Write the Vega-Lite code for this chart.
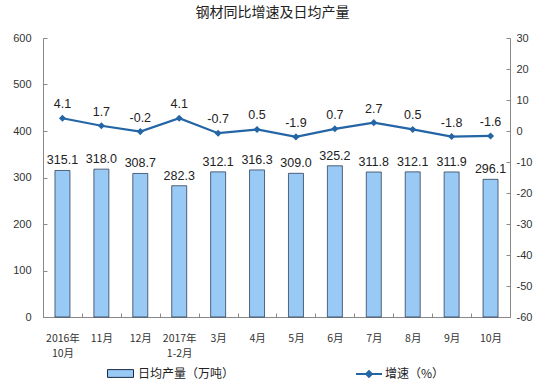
{
  "$schema": "https://vega.github.io/schema/vega-lite/v6.json",
  "autosize": {"type": "none"},
  "width": 467,
  "height": 279,
  "padding": {"left": 43, "top": 38, "right": 35, "bottom": 71},
  "title": {"text": "钢材同比增速及日均产量", "font": "Noto Sans CJK SC", "fontSize": 14, "fontWeight": "normal", "color": "#222222", "offset": 12, "anchor": "middle", "dx": -4},
  "config": {
    "locale": {"number": {"decimal": ".", "thousands": ",", "grouping": [3], "currency": ["$", ""], "minus": "-"}},
    "view": {"stroke": null},
    "axis": {"grid": false, "title": null, "domainColor": "#888888", "tickColor": "#888888", "labelFont": "Liberation Sans", "labelFontSize": 11, "labelColor": "#333333", "labelOverlap": false}
  },
  "data": {"values": [
    {"label": "2016年|10月", "output": 315.1, "growth": 4.1},
    {"label": "11月", "output": 318.0, "growth": 1.7},
    {"label": "12月", "output": 308.7, "growth": -0.2},
    {"label": "2017年|1-2月", "output": 282.3, "growth": 4.1},
    {"label": "3月", "output": 312.1, "growth": -0.7},
    {"label": "4月", "output": 316.3, "growth": 0.5},
    {"label": "5月", "output": 309.0, "growth": -1.9},
    {"label": "6月", "output": 325.2, "growth": 0.7},
    {"label": "7月", "output": 311.8, "growth": 2.7},
    {"label": "8月", "output": 312.1, "growth": 0.5},
    {"label": "9月", "output": 311.9, "growth": -1.8},
    {"label": "10月", "output": 296.1, "growth": -1.6}
  ]},
  "layer": [
    {
      "layer": [
        {
          "mark": {"type": "bar", "width": 15, "stroke": "#1b2b45", "strokeWidth": 0.7},
          "encoding": {
            "x": {"field": "label", "type": "nominal", "sort": null, "scale": {"paddingInner": 0, "paddingOuter": 0},
                  "axis": {"labelAngle": 0, "labelExpr": "split(datum.label, '|')", "labelLineHeight": 15, "labelFontSize": 10.5, "tickBand": "extent", "tickSize": -4, "labelPadding": 20, "labelFont": "Noto Sans CJK SC"}},
            "y": {"field": "output", "type": "quantitative", "scale": {"domain": [0, 600]},
                  "axis": {"orient": "left", "values": [0, 100, 200, 300, 400, 500, 600], "tickSize": -4, "labelPadding": 16, "labelOverlap": false}},
            "fill": {"datum": "日均产量（万吨）", "scale": {"range": ["#99C9F5"]},
                     "legend": {"orient": "none", "legendX": 64, "legendY": 322, "direction": "horizontal", "title": null,
                                "symbolType": "M-1,-0.3H1V0.3H-1Z", "symbolSize": 676, "symbolStrokeColor": "#1b2b45", "symbolStrokeWidth": 1,
                                "labelFont": "Noto Sans CJK SC", "labelFontSize": 12, "labelColor": "#222222", "labelOffset": 4}}
          }
        },
        {
          "mark": {"type": "text", "dy": -10, "font": "Liberation Sans", "fontSize": 12.5, "color": "#222222"},
          "encoding": {
            "x": {"field": "label", "type": "nominal", "sort": null},
            "y": {"field": "output", "type": "quantitative"},
            "text": {"field": "output", "type": "quantitative", "format": ".1f"}
          }
        }
      ]
    },
    {
      "layer": [
        {
          "mark": {"type": "line", "strokeWidth": 2.2},
          "encoding": {
            "x": {"field": "label", "type": "nominal", "sort": null},
            "y": {"field": "growth", "type": "quantitative", "scale": {"domain": [-60, 30], "nice": false},
                  "axis": {"orient": "right", "values": [-60, -50, -40, -30, -20, -10, 0, 10, 20, 30], "tickCount": 10, "tickSize": -4, "labelPadding": 10, "labelOverlap": false}},
            "stroke": {"datum": "增速（%）", "scale": {"range": ["#2465A5"]},
                       "legend": {"orient": "none", "legendX": 312, "legendY": 322, "direction": "horizontal", "title": null,
                                  "symbolType": "M-1,0H1M-0.22,0L0,-0.22L0.22,0L0,0.22Z", "symbolSize": 676, "symbolStrokeWidth": 2, "symbolFillColor": "#2465A5",
                                  "labelFont": "Noto Sans CJK SC", "labelFontSize": 12, "labelColor": "#222222", "labelOffset": 2}}
          }
        },
        {
          "mark": {"type": "point", "shape": "diamond", "filled": true, "size": 50, "color": "#2465A5", "opacity": 1},
          "encoding": {
            "x": {"field": "label", "type": "nominal", "sort": null},
            "y": {"field": "growth", "type": "quantitative",
                  "axis": {"orient": "right", "values": [-60, -50, -40, -30, -20, -10, 0, 10, 20, 30], "tickCount": 10, "tickSize": -4, "labelPadding": 10, "labelOverlap": false}}
          }
        },
        {
          "mark": {"type": "text", "dy": -14, "font": "Liberation Sans", "fontSize": 12.5, "color": "#222222"},
          "encoding": {
            "x": {"field": "label", "type": "nominal", "sort": null},
            "y": {"field": "growth", "type": "quantitative",
                  "axis": {"orient": "right", "values": [-60, -50, -40, -30, -20, -10, 0, 10, 20, 30], "tickCount": 10, "tickSize": -4, "labelPadding": 10, "labelOverlap": false}},
            "text": {"field": "growth", "type": "quantitative", "format": ".1f"}
          }
        }
      ]
    }
  ],
  "resolve": {"scale": {"y": "independent"}}
}
